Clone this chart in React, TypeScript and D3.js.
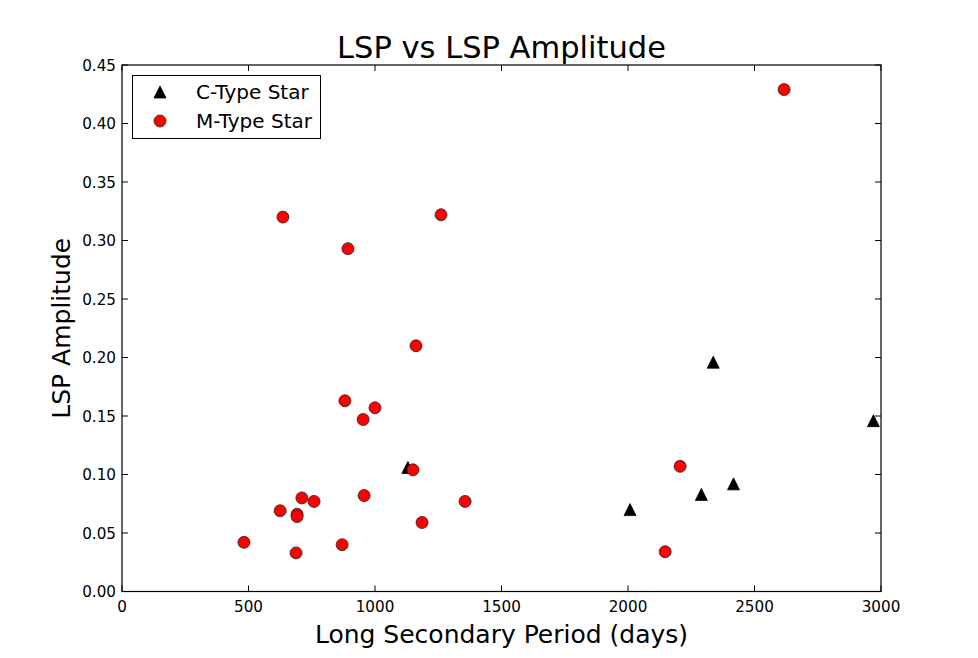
import React, {JSX} from "react";
import * as d3 from "d3";

// C-type stars: period (days), amplitude
const cPeriod = [1130, 2008, 2290, 2337, 2417, 2970];
const cAmp = [0.106, 0.070, 0.083, 0.196, 0.092, 0.146];

// M-type stars
const mPeriod = [482, 625, 636, 692, 692, 688, 711, 759, 870, 881, 893, 953, 957, 1000, 1150, 1162, 1186, 1261, 1356, 2147, 2206, 2617];
const mAmp = [0.042, 0.069, 0.320, 0.066, 0.064, 0.033, 0.080, 0.077, 0.040, 0.163, 0.293, 0.147, 0.082, 0.157, 0.104, 0.210, 0.059, 0.322, 0.077, 0.034, 0.107, 0.429];

const xTicks = [0, 500, 1000, 1500, 2000, 2500, 3000];
const yTicks = [0, 0.05, 0.1, 0.15, 0.2, 0.25, 0.3, 0.35, 0.4, 0.45];

const font = "'DejaVu Sans', sans-serif";

const Triangle = ({cx, cy, s}: {cx: number; cy: number; s: number}): JSX.Element => (
    <path d={`M${cx},${cy - s}L${cx + s},${cy + s}L${cx - s},${cy + s}Z`} fill="black" stroke="black" strokeWidth={0.8}/>
);

export default function App(): JSX.Element {
    const width = 978
    const height = 658
    const left = 122
    const right = 881
    const top = 65
    const bottom = 591.5
    const x = d3.scaleLinear([0, 3000], [left, right]);
    const y = d3.scaleLinear([0, 0.45], [bottom, top]);
    const tick = 6

    return (
        <div style={{position: "fixed", left: 0, top: 0}}>
            <svg width={width} height={height} style={{display: "block", background: "white"}} fontFamily={font}>
                <rect x={0} y={0} width={width} height={height} fill="white"/>
                <text x={(left + right) / 2} y={58} textAnchor="middle" fontSize={30.5}>LSP vs LSP Amplitude</text>

                {/* points */}
                {cPeriod.map((p, i) => (
                    <Triangle key={"c" + i} cx={x(p)} cy={y(cAmp[i])} s={6}/>
                ))}
                {mPeriod.map((p, i) => (
                    <circle key={"m" + i} cx={x(p)} cy={y(mAmp[i])} r={6} fill="red" stroke="#222" strokeWidth={0.8}/>
                ))}

                {/* frame */}
                <rect x={left} y={top} width={right - left} height={bottom - top} fill="none" stroke="black" strokeWidth={1.2}/>

                {/* x ticks */}
                {xTicks.map(t => (
                    <g key={"x" + t}>
                        <line x1={x(t)} x2={x(t)} y1={bottom} y2={bottom - tick} stroke="black"/>
                        <line x1={x(t)} x2={x(t)} y1={top} y2={top + tick} stroke="black"/>
                        <text x={x(t)} y={bottom + 20} textAnchor="middle" fontSize={15.2}>{t}</text>
                    </g>
                ))}
                {/* y ticks */}
                {yTicks.map(t => (
                    <g key={"y" + t}>
                        <line x1={left} x2={left + tick} y1={y(t)} y2={y(t)} stroke="black"/>
                        <line x1={right} x2={right - tick} y1={y(t)} y2={y(t)} stroke="black"/>
                        <text x={left - 6} y={y(t) + 5.5} textAnchor="end" fontSize={15.2}>{t.toFixed(2)}</text>
                    </g>
                ))}

                <text x={(left + right) / 2} y={643} textAnchor="middle" fontSize={25}>Long Secondary Period (days)</text>
                <text transform={`translate(70,${(top + bottom) / 2}) rotate(-90)`} textAnchor="middle" fontSize={25}>LSP Amplitude</text>

                {/* legend */}
                <g>
                    <rect x={132.5} y={75.5} width={188} height={63} fill="white" stroke="black" strokeWidth={1}/>
                    <Triangle cx={160} cy={92} s={6}/>
                    <text x={196} y={99} fontSize={20}>C-Type Star</text>
                    <circle cx={160} cy={121} r={6} fill="red" stroke="#222" strokeWidth={0.8}/>
                    <text x={196} y={128} fontSize={20}>M-Type Star</text>
                </g>
            </svg>
        </div>
    )
}
